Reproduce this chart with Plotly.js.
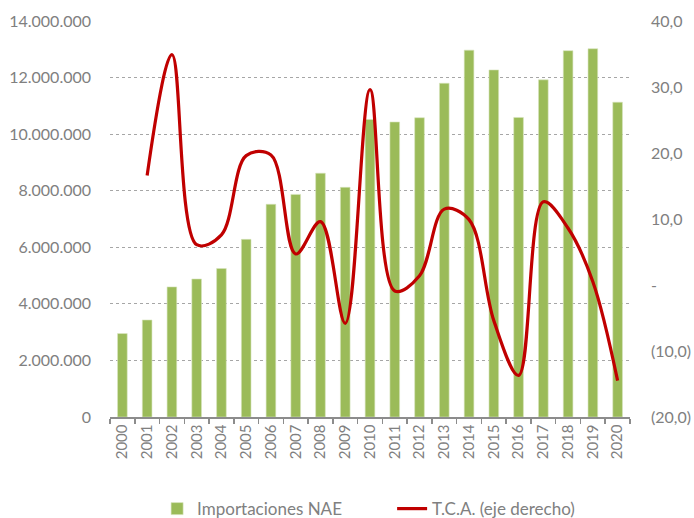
<!DOCTYPE html>
<html>
<head>
<meta charset="utf-8">
<script src="https://cdn.plot.ly/plotly-3.0.1.min.js"></script>
<style>html,body{margin:0;padding:0;background:#fff}#chart{width:694px;height:518px}</style>
</head>
<body>
<div id="chart"></div>
<script>
const years = ["2000","2001","2002","2003","2004","2005","2006","2007","2008","2009","2010","2011","2012","2013","2014","2015","2016","2017","2018","2019","2020"];
const importaciones = [2950000,3430000,4600000,4880000,5250000,6280000,7520000,7870000,8620000,8120000,10520000,10430000,10580000,11800000,12970000,12270000,10590000,11920000,12950000,13020000,11130000];
const tcaYears = ["2001","2002","2003","2004","2005","2006","2007","2008","2009","2010","2011","2012","2013","2014","2015","2016","2017","2018","2019","2020"];
const tca = [16.6,34.9,6.1,7.6,19.6,19.7,4.7,9.6,-5.8,29.6,-0.9,1.4,11.5,9.9,-5.4,-13.7,12.6,8.6,0.5,-14.5];
const leftTicks = [0,2000000,4000000,6000000,8000000,10000000,12000000,14000000];
const rightTickVals = [-20,-10,0,10,20,30,40];
const rightTickText = ["(20,0)","(10,0)","-","10,0","20,0","30,0","40,0"];

const grey = "#808080";
const fontFam = "Lato, 'Open Sans', sans-serif";

const traces = [
  {type:"bar", x:years, y:importaciones, name:"Importaciones NAE",
   marker:{color:"#9BBB59", line:{color:"#d7e4bd", width:0.6}}, yaxis:"y"},
  {type:"scatter", mode:"lines", x:tcaYears, y:tca, name:"T.C.A. (eje derecho)",
   line:{color:"#C00000", width:3.2, shape:"spline", smoothing:1}, yaxis:"y2"}
];

const layout = {
  width:694, height:518,
  margin:{l:110, r:64, t:21, b:101},
  paper_bgcolor:"#fff", plot_bgcolor:"#fff",
  separators:",.",
  font:{family:fontFam, color:grey, size:16},
  bargap:0.61,
  showlegend:true,
  legend:{orientation:"h", x:0.565, xanchor:"center", xref:"container",
          y:0.052, yanchor:"top", yref:"container", entrywidth:190,
          font:{size:17, color:grey}, traceorder:"normal"},
  xaxis:{type:"category", categoryorder:"array", categoryarray:years,
         automargin:false,
         tickangle:-90, tickfont:{size:15, color:grey},
         showline:true, linecolor:"#8c8c8c", linewidth:1.5,
         ticks:"outside", tickson:"boundaries", ticklen:5, tickcolor:"#8c8c8c", tickwidth:1.5,
         showgrid:false, zeroline:false},
  yaxis:{range:[0,14000000], tickvals:leftTicks, tickformat:",d", automargin:false,
         showgrid:true, gridcolor:"#a6a6a6", griddash:"dot", gridwidth:1,
         zeroline:false, showline:false, ticks:"", ticklabelstandoff:18,
         tickfont:{size:16, color:grey}},
  yaxis2:{overlaying:"y", side:"right", range:[-20,40], automargin:false,
          tickvals:rightTickVals, ticktext:rightTickText,
          showgrid:false, zeroline:false, showline:false, ticks:"", ticklabelstandoff:20,
          tickfont:{size:16, color:grey}}
};

Plotly.newPlot("chart", traces, layout, {displayModeBar:false, staticPlot:true});
</script>
</body>
</html>
